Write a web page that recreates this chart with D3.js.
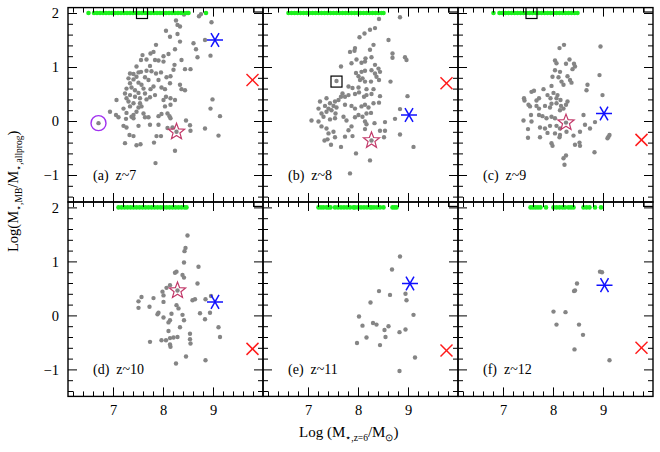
<!DOCTYPE html>
<html>
<head>
<meta charset="utf-8">
<script src="https://cdn.jsdelivr.net/npm/d3@7"></script>
<style>
  body { margin: 0; background: #fff; }
  svg text { font-family: "Liberation Serif", "Times New Roman", serif; }
</style>
</head>
<body>
<div id="chart"></div>
<script>
// --- data (x = log M*,z=6 ; y = log ratio) ---
const panelLabels = ["(a)  z~7", "(b)  z~8", "(c)  z~9", "(d)  z~10", "(e)  z~11", "(f)  z~12"];

const ptsZ7 = [[8.72,1.94],[8.76,1.98],[8.42,1.97],[8.97,1.83],[8.26,1.86],[8.29,1.78],[8.34,1.75],[8.06,1.67],
  [8.14,1.56],[8.29,1.61],[8.34,1.47],[8.84,1.50],[8.61,1.44],[8.66,1.33],[7.86,1.41],[8.24,1.33],[7.59,1.22],
  [7.75,1.25],[7.81,1.28],[8.11,1.24],[8.01,1.20],[8.69,1.18],[8.95,1.21],[7.56,1.13],[7.67,1.14],[7.84,1.13],
  [7.91,1.12],[8.01,1.10],[8.37,1.13],[8.23,1.04],[7.47,1.01],[7.74,1.02],[8.21,0.95],[8.44,0.96],[8.55,0.96],
  [7.34,0.88],[7.41,0.87],[7.51,0.90],[7.56,0.91],[7.67,0.93],[7.77,0.92],[7.86,0.88],[7.96,0.90],[8.07,0.81],
  [8.15,0.83],[7.31,0.79],[7.41,0.77],[7.47,0.82],[7.64,0.81],[7.71,0.76],[7.91,0.76],[7.34,0.70],[7.51,0.71],
  [7.57,0.67],[7.61,0.60],[7.81,0.64],[7.97,0.62],[8.04,0.59],[8.14,0.70],[7.27,0.60],[7.37,0.62],[7.44,0.57],
  [7.75,0.59],[8.34,0.67],[8.37,0.59],[8.44,0.57],[7.24,0.51],[7.34,0.48],[7.44,0.45],[7.51,0.52],[7.64,0.51],
  [7.84,0.48],[8.06,0.45],[8.15,0.42],[7.27,0.42],[7.54,0.42],[7.67,0.40],[7.74,0.44],[8.01,0.39],[8.24,0.39],
  [7.07,0.39],[7.31,0.36],[7.41,0.33],[7.54,0.33],[8.99,0.40],[7.21,0.23],[7.34,0.27],[7.47,0.17],[7.51,0.25],
  [7.57,0.27],[8.04,0.27],[8.15,0.30],[8.95,0.23],[6.94,0.17],[7.06,0.11],[7.11,0.07],[7.27,0.15],[7.37,0.08],
  [7.41,0.11],[7.61,0.14],[7.64,0.07],[7.71,0.07],[7.91,0.09],[7.97,0.13],[8.09,0.14],[8.13,0.09],[8.15,0.05],
  [9.14,0.09],[7.26,0.04],[7.41,0.05],[7.21,-0.09],[7.27,-0.12],[7.51,-0.09],[7.74,-0.07],[7.91,-0.07],
  [8.09,-0.13],[8.19,-0.12],[8.46,0.01],[8.54,-0.08],[8.84,-0.14],[8.55,-0.18],[7.33,-0.26],[7.41,-0.28],
  [7.87,-0.28],[7.96,-0.28],[9.11,-0.27],[7.24,-0.41],[7.47,-0.45],[7.55,-0.43],[7.82,-0.40],[8.24,-0.55],
  [7.85,-0.78],[8.27,-0.20],[6.71,-0.04]];

const ptsZ8 = [[8.84,1.92],[8.42,1.89],[8.34,1.72],[8.24,1.69],[8.13,1.62],[8.03,1.55],[8.61,1.50],[8.31,1.41],
  [7.94,1.35],[7.84,1.28],[7.93,1.30],[8.24,1.32],[8.69,1.25],[8.69,1.17],[8.94,1.18],[8.97,1.13],[8.15,1.16],
  [8.27,1.18],[7.97,1.14],[7.87,1.07],[8.07,1.08],[8.14,1.10],[8.34,1.04],[8.41,0.97],[8.44,0.91],[7.66,1.01],
  [7.96,0.89],[8.07,0.91],[8.14,0.93],[8.27,0.94],[8.34,0.88],[8.37,0.82],[8.01,0.83],[8.04,0.76],[8.09,0.79],
  [8.14,0.73],[8.26,0.73],[8.42,0.76],[8.65,0.73],[7.81,0.64],[7.89,0.61],[8.01,0.62],[8.17,0.59],[8.31,0.59],
  [7.69,0.51],[7.66,0.45],[7.81,0.48],[7.94,0.50],[8.02,0.53],[8.44,0.46],[7.37,0.42],[7.24,0.36],[7.44,0.33],
  [7.54,0.36],[7.61,0.39],[7.74,0.45],[8.12,0.45],[8.17,0.48],[8.27,0.50],[8.42,0.34],[8.99,0.46],[7.21,0.23],
  [7.34,0.28],[7.41,0.23],[7.51,0.28],[7.57,0.25],[7.27,0.14],[7.37,0.17],[7.47,0.20],[7.55,0.14],[7.74,0.30],
  [7.87,0.28],[7.94,0.23],[8.07,0.27],[8.14,0.30],[8.21,0.25],[8.31,0.33],[8.84,0.22],[7.31,0.08],[7.54,0.05],
  [7.71,0.08],[7.94,0.07],[8.01,0.11],[8.09,0.08],[8.17,0.14],[8.26,0.15],[7.07,0.01],[7.21,-0.01],[7.44,0.03],
  [8.74,0.04],[7.77,0.01],[8.14,-0.01],[8.17,-0.06],[8.33,-0.04],[8.54,-0.02],[7.27,-0.10],[7.37,-0.14],
  [7.87,-0.10],[7.81,-0.17],[8.14,-0.15],[8.44,-0.18],[8.54,-0.18],[7.41,-0.23],[7.51,-0.20],[7.74,-0.29],
  [7.89,-0.28],[7.54,-0.30],[7.33,-0.36],[7.39,-0.34],[7.46,-0.44],[7.66,-0.48],[8.52,-0.30],[8.84,-0.25],
  [9.11,-0.48],[7.96,-0.60],[8.24,-0.73],[7.84,-0.97],[8.27,-0.36],[7.57,0.74]];

const ptsZ9 = [[8.22,1.41],[8.13,1.35],[8.95,1.38],[8.33,1.14],[8.04,1.12],[8.07,1.07],[8.26,1.06],[8.42,1.06],
  [8.39,0.96],[8.44,1.01],[8.04,0.94],[8.14,0.91],[8.93,0.85],[7.99,0.82],[8.11,0.81],[8.29,0.83],[8.34,0.76],
  [8.37,0.71],[8.17,0.73],[8.21,0.67],[8.69,0.67],[8.67,0.57],[7.81,0.59],[7.97,0.65],[8.01,0.52],[8.09,0.48],
  [7.57,0.54],[7.62,0.56],[7.89,0.48],[7.42,0.42],[7.43,0.38],[7.67,0.38],[7.72,0.42],[7.95,0.42],[8.07,0.42],
  [8.15,0.39],[8.29,0.36],[8.99,0.48],[7.51,0.30],[7.54,0.27],[7.67,0.28],[7.72,0.23],[7.84,0.28],[7.94,0.25],
  [7.97,0.32],[8.07,0.33],[8.16,0.28],[8.26,0.30],[7.79,0.09],[7.87,0.05],[7.56,0.11],[7.72,0.11],[8.14,0.20],
  [8.21,0.23],[8.61,0.11],[7.41,0.01],[7.57,-0.01],[7.97,0.08],[8.04,0.05],[7.94,-0.09],[8.07,-0.09],
  [8.14,-0.14],[7.74,-0.12],[7.84,-0.14],[8.84,-0.02],[8.64,-0.07],[8.74,-0.14],[7.50,-0.15],[7.89,-0.22],
  [8.04,-0.23],[8.14,-0.26],[8.27,-0.20],[8.41,-0.27],[8.54,-0.20],[7.74,-0.30],[7.50,-0.31],[8.13,-0.30],
  [9.11,-0.29],[9.13,-0.26],[9.09,-0.32],[7.97,-0.41],[7.99,-0.46],[8.44,-0.44],[8.53,-0.40],[8.54,-0.46],
  [8.83,-0.58],[8.26,-0.64],[8.21,-0.69],[8.23,-0.81],[8.26,-0.03]];

const ptsZ10 = [[8.49,1.48],[8.45,1.25],[8.43,1.19],[8.42,0.98],[8.71,0.90],[8.24,0.79],[8.27,0.81],[8.39,0.75],
  [8.42,0.70],[8.69,0.59],[8.14,0.56],[8.07,0.51],[7.99,0.44],[8.01,0.37],[7.57,0.34],[7.81,0.32],[7.51,0.26],
  [8.01,0.25],[8.64,0.30],[8.59,0.28],[8.85,0.30],[8.96,0.36],[7.51,0.14],[7.73,0.16],[8.27,0.19],[8.31,0.13],
  [7.91,0.05],[7.89,0.02],[8.74,0.04],[8.94,0.05],[8.01,-0.04],[8.17,0.03],[8.39,0.01],[8.14,-0.09],
  [8.11,-0.13],[8.42,-0.09],[8.84,-0.07],[8.34,-0.22],[9.11,-0.22],[8.11,-0.29],[8.54,-0.34],[8.29,-0.40],
  [8.21,-0.41],[8.14,-0.42],[7.74,-0.49],[7.97,-0.46],[8.06,-0.46],[8.54,-0.44],[8.55,-0.52],[8.14,-0.54],
  [8.15,-0.58],[9.14,-0.40],[8.46,-0.76],[8.26,-0.89],[8.85,-0.83],[8.29,0.46]];

const ptsZ11 = [[8.84,1.09],[8.68,0.85],[8.42,0.45],[8.64,0.38],[8.95,0.40],[8.97,0.28],[8.25,0.24],[9.11,0.01],
  [8.02,-0.02],[8.09,-0.19],[8.30,-0.14],[8.37,-0.17],[8.61,-0.20],[8.53,-0.27],[8.95,-0.26],[8.83,-0.31],
  [8.17,-0.41],[8.55,-0.40],[7.98,-0.51],[8.44,-0.55],[9.14,-0.78],[8.83,-1.03]];

const ptsZ12 = [[8.94,0.81],[8.98,0.80],[8.48,0.59],[8.42,0.45],[8.44,0.46],[8.01,0.07],[8.25,0.06],
  [8.07,-0.17],[8.52,-0.17],[8.60,-0.36],[8.43,-0.63],[9.13,-0.83]];

// objects piled up at the top edge (y = 2)
const greenZ7 = [6.51,6.62,6.68,6.74,6.80,6.86,6.92,6.98,7.04,7.10,7.16,7.22,7.28,7.34,7.40,7.46,7.52,7.58,7.64,
  7.70,7.76,7.82,7.88,7.94,8.00,8.06,8.12,8.18,8.24,8.30,8.36,8.42,8.48,8.51,8.86];
const greenZ8 = [6.61,6.67,6.73,6.79,6.85,6.91,6.97,7.03,7.09,7.15,7.21,7.27,7.33,7.39,7.45,7.51,7.57,7.63,7.69,
  7.75,7.81,7.87,7.93,7.99,8.05,8.11,8.17,8.23,8.29,8.35,8.41,8.47,8.51];
const greenZ9 = [6.81,6.93,6.99,7.05,7.11,7.17,7.23,7.29,7.35,7.41,7.47,7.53,7.59,7.65,7.71,7.77,7.83,7.89,7.95,
  8.01,8.07,8.13,8.19,8.25,8.31,8.37,8.43,8.49];
const greenZ10 = [7.11,7.17,7.23,7.29,7.35,7.41,7.47,7.53,7.59,7.65,7.71,7.77,7.83,7.89,7.95,8.01,8.07,8.13,
  8.19,8.25,8.31,8.37,8.43,8.47];
const greenZ11 = [7.21,7.26,7.31,7.37,7.41,7.45,7.54,7.60,7.66,7.72,7.78,7.84,7.91,7.94,8.00,8.06,8.12,8.18,
  8.24,8.27,8.32,8.38,8.44,8.51,8.69,8.73,8.77];
const greenZ12 = [7.55,7.60,7.65,7.70,7.75,7.86,8.01,8.07,8.13,8.19,8.24,8.31,8.36,8.41,8.61,8.67,8.73,8.84,8.96];

// special objects, one value per panel (null = not shown)
const asterX = [9.04, 9.02, 9.02, 9.04, 9.04, 9.03];
const asterY = [1.50, 0.11, 0.14, 0.25, 0.59, 0.56];
const crossX = [9.79, 9.77, 9.77, 9.79, 9.77, 9.77];
const crossY = [0.76, 0.70, -0.35, -0.62, -0.65, -0.60];
const starX = [8.27, 8.27, 8.26, 8.29, null, null];
const starY = [-0.20, -0.36, -0.03, 0.46, null, null];
const circleX = [6.71, null, null, null, null, null];
const circleY = [-0.04, null, null, null, null, null];
const squares = [[[7.58,2.0],[9.93,2.12]], [[7.57,0.73],[9.93,2.12]], [[7.57,2.0],[9.93,2.12]],
  [[9.93,2.12]], [[9.93,2.12]], [[9.93,2.12]]];

const xMajor = [7, 8, 9];
const yMajor = [-1, 0, 1, 2];

const points = [ptsZ7, ptsZ8, ptsZ9, ptsZ10, ptsZ11, ptsZ12];
const greens = [greenZ7, greenZ8, greenZ9, greenZ10, greenZ11, greenZ12];

// --- layout ---
const W = 660, H = 452;
const margin = { top: 7.6, left: 68 };
const pw = 195, ph = 194.4;

const svg = d3.select("#chart").append("svg").attr("width", W).attr("height", H);

const x = d3.scaleLinear().domain([6.1, 10]).range([0, pw]);
const y = d3.scaleLinear().domain([-1.5, 2.1]).range([ph, 0]);

const xMinor = d3.range(6.2, 9.99, 0.2).filter(v => Math.abs(v - Math.round(v)) > 0.01);
const yMinor = d3.range(-1.4, 2.09, 0.2).filter(v => Math.abs(v - Math.round(v)) > 0.01);

const starPath = (() => {
  let pts = [];
  for (let k = 0; k < 10; k++) {
    let r = k % 2 === 0 ? 8.5 : 3.6;
    let a = -Math.PI / 2 + k * Math.PI / 5;
    pts.push([r * Math.cos(a), r * Math.sin(a)]);
  }
  return "M" + pts.map(p => p.join(",")).join("L") + "Z";
})();

panelLabels.forEach((lab, i) => {
  let col = i % 3, row = Math.floor(i / 3);
  let g = svg.append("g")
    .attr("transform", `translate(${margin.left + col * pw},${margin.top + row * ph})`);

  g.append("clipPath").attr("id", "clip" + i)
    .append("rect").attr("width", pw).attr("height", ph);
  let inner = g.append("g").attr("clip-path", `url(#clip${i})`);

  // gray points
  inner.selectAll(".pt").data(points[i]).join("circle")
    .attr("class", "pt")
    .attr("cx", d => x(d[0])).attr("cy", d => y(d[1]))
    .attr("r", 2.2).attr("fill", "#858585");

  // green points at the upper edge
  inner.selectAll(".gr").data(greens[i]).join("circle")
    .attr("class", "gr")
    .attr("cx", d => x(d)).attr("cy", y(2))
    .attr("r", 2.3).attr("fill", "#1cf01c");

  // squares
  inner.selectAll(".sq").data(squares[i]).join("rect")
    .attr("class", "sq")
    .attr("x", d => x(d[0]) - 5.5).attr("y", d => y(d[1]) - 5.5)
    .attr("width", 11).attr("height", 11)
    .attr("fill", "none").attr("stroke", "#000").attr("stroke-width", 1.2);

  // star
  if (starX[i] !== null) {
    inner.append("path").attr("d", starPath)
      .attr("transform", `translate(${x(starX[i])},${y(starY[i])})`)
      .attr("fill", "none").attr("stroke", "#c23a6a").attr("stroke-width", 1.2);
  }
  // circle
  if (circleX[i] !== null) {
    inner.append("circle").attr("cx", x(circleX[i])).attr("cy", y(circleY[i]))
      .attr("r", 7.5).attr("fill", "none").attr("stroke", "#a030f0").attr("stroke-width", 1.4);
  }
  // blue asterisk
  let ag = inner.append("g").attr("transform", `translate(${x(asterX[i])},${y(asterY[i])})`);
  [0, 60, 120].forEach(a => {
    let r = 8, c = Math.cos(a * Math.PI / 180) * r, s = Math.sin(a * Math.PI / 180) * r;
    ag.append("line").attr("x1", -c).attr("y1", -s).attr("x2", c).attr("y2", s)
      .attr("stroke", "#1010ff").attr("stroke-width", 1.5);
  });
  // red cross
  let cg = inner.append("g").attr("transform", `translate(${x(crossX[i])},${y(crossY[i])})`);
  [[-6, -6, 6, 6], [-6, 6, 6, -6]].forEach(l => {
    cg.append("line").attr("x1", l[0]).attr("y1", l[1]).attr("x2", l[2]).attr("y2", l[3])
      .attr("stroke", "#ff1a1a").attr("stroke-width", 1.5);
  });

  // axes, ticks pointing inward on all four sides
  const clean = sel => { sel.select(".domain").remove(); sel.selectAll("line").attr("stroke", "#000"); };
  const fmt = d3.format("d");
  g.append("g").attr("transform", `translate(0,${ph})`)
    .call(d3.axisBottom(x).tickValues(xMajor).tickSize(-9).tickPadding(8).tickFormat(row === 1 ? fmt : ""))
    .call(clean);
  g.append("g").attr("transform", `translate(0,${ph})`)
    .call(d3.axisBottom(x).tickValues(xMinor).tickSize(-5).tickFormat("")).call(clean);
  g.append("g").call(d3.axisTop(x).tickValues(xMajor).tickSize(-9).tickFormat("")).call(clean);
  g.append("g").call(d3.axisTop(x).tickValues(xMinor).tickSize(-5).tickFormat("")).call(clean);
  g.append("g")
    .call(d3.axisLeft(y).tickValues(yMajor).tickSize(-9).tickPadding(9).tickFormat(col === 0 ? fmt : ""))
    .call(clean);
  g.append("g").call(d3.axisLeft(y).tickValues(yMinor).tickSize(-5).tickFormat("")).call(clean);
  g.append("g").attr("transform", `translate(${pw},0)`)
    .call(d3.axisRight(y).tickValues(yMajor).tickSize(-9).tickFormat("")).call(clean);
  g.append("g").attr("transform", `translate(${pw},0)`)
    .call(d3.axisRight(y).tickValues(yMinor).tickSize(-5).tickFormat("")).call(clean);

  g.selectAll(".tick text")
    .style("font-family", "'Liberation Serif', serif").style("font-size", "14.5px").attr("fill", "#000");

  g.append("rect").attr("width", pw).attr("height", ph)
    .attr("fill", "none").attr("stroke", "#000").attr("stroke-width", 1.4);

  g.append("text").attr("x", 25).attr("y", 172)
    .attr("font-size", 14).style("white-space", "pre")
    .text(lab);
});

// axis titles
const xt = svg.append("text").attr("x", 299).attr("y", 437).attr("font-size", 15);
xt.append("tspan").text("Log (M");
xt.append("tspan").attr("dy", 4).attr("font-size", 9.5).text("⋆,z=6");
xt.append("tspan").attr("dy", -4).text("/M");
xt.append("tspan").attr("dy", 4).attr("font-size", 10).text("⊙");
xt.append("tspan").attr("dy", -4).text(")");

const yt = svg.append("text").attr("transform", "translate(18,252) rotate(-90)").attr("font-size", 14.5);
yt.append("tspan").text("Log(M");
yt.append("tspan").attr("dy", 4).attr("font-size", 9.5).text("⋆,MB");
yt.append("tspan").attr("dy", -4).text("/M");
yt.append("tspan").attr("dy", 4).attr("font-size", 9.5).text("⋆,allprog");
yt.append("tspan").attr("dy", -4).text(")");
</script>
</body>
</html>
